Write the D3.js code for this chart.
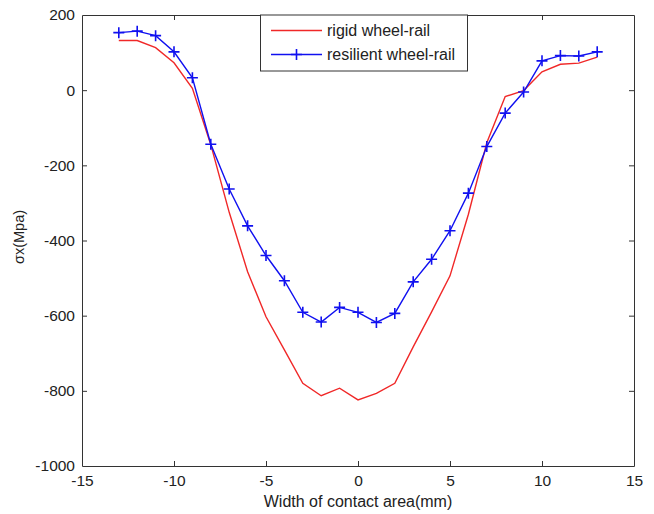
<!DOCTYPE html>
<html>
<head>
<meta charset="utf-8">
<script src="https://cdn.jsdelivr.net/npm/d3@7/dist/d3.min.js"></script>
<style>
  html, body { margin: 0; padding: 0; background: #fff; }
  svg text { font-family: "Liberation Sans", Arial, sans-serif; fill: #222; }
</style>
</head>
<body>
<svg id="chart" width="654" height="514"></svg>
<script>
// Contact width positions (mm)
const positions = [-13, -12, -11, -10, -9, -8, -7, -6, -5, -4, -3, -2, -1, 0, 1, 2, 3, 4, 5, 6, 7, 8, 9, 10, 11, 12, 13];
// Longitudinal stress σx (MPa) for the rigid wheel-rail model
const rigidStress = [132, 132, 113, 73, 5, -145, -325, -483, -603, -691, -780, -813, -793, -824, -807, -780, -683, -590, -494, -330, -140, -17, -1, 49, 69, 72, 88];
// Longitudinal stress σx (MPa) for the resilient wheel-rail model
const resilientStress = [153, 157, 145, 102, 33, -144, -263, -361, -440, -507, -591, -617, -578, -591, -618, -594, -510, -450, -374, -274, -150, -61, -5, 78, 92, 91, 102];
const seriesNames = ["rigid wheel-rail", "resilient wheel-rail"];
const xTicks = [-15, -10, -5, 0, 5, 10, 15];
const yTicks = [-1000, -800, -600, -400, -200, 0, 200];
const xTitle = "Width of contact area(mm)";
const yTitle = "σx(Mpa)";

const svg = d3.select("#chart");
const plotLeft = 82, plotRight = 634, plotTop = 15, plotBottom = 466;

const x = d3.scaleLinear().domain([-15, 15]).range([plotLeft, plotRight]);
const y = d3.scaleLinear().domain([-1000, 200]).range([plotBottom, plotTop]);

const axisColor = "#333";
const fontSize = "15.5px";
// plain hyphen-minus, as in the printed figure
const tickFmt = d => String(d);

function styleAxis(g) {
  g.selectAll("path.domain").attr("stroke", axisColor).attr("stroke-width", 1);
  g.selectAll(".tick line").attr("stroke", axisColor).attr("stroke-width", 1);
  g.selectAll(".tick text").style("font-size", fontSize).attr("fill", "#222");
}

// Box axes with inward ticks
svg.append("g").attr("transform", `translate(0,${plotBottom})`)
  .call(d3.axisBottom(x).tickValues(xTicks).tickSizeInner(-5).tickSizeOuter(0).tickPadding(9).tickFormat(tickFmt))
  .call(styleAxis);
svg.append("g").attr("transform", `translate(0,${plotTop})`)
  .call(d3.axisTop(x).tickValues(xTicks).tickSizeInner(-5).tickSizeOuter(0).tickFormat(""))
  .call(styleAxis);
svg.append("g").attr("transform", `translate(${plotLeft},0)`)
  .call(d3.axisLeft(y).tickValues(yTicks).tickSizeInner(-5).tickSizeOuter(0).tickPadding(7).tickFormat(tickFmt))
  .call(styleAxis);
svg.append("g").attr("transform", `translate(${plotRight},0)`)
  .call(d3.axisRight(y).tickValues(yTicks).tickSizeInner(-5).tickSizeOuter(0).tickFormat(""))
  .call(styleAxis);

// Hide the end ticks that fall on the box corners
svg.selectAll(".tick").filter(d => d === -15 || d === 15 || d === -1000 || d === 200)
  .select("line").attr("stroke-opacity", 0);

const line = d3.line().x(d => x(d[0])).y(d => y(d[1]));
const rigidData = positions.map((p, i) => [p, rigidStress[i]]);
const resilientData = positions.map((p, i) => [p, resilientStress[i]]);

const red = "#f02828", blue = "#1010f0";

svg.append("path").datum(rigidData).attr("d", line)
  .attr("fill", "none").attr("stroke", red).attr("stroke-width", 1.4);
svg.append("path").datum(resilientData).attr("d", line)
  .attr("fill", "none").attr("stroke", blue).attr("stroke-width", 1.4);

const plus = (sel, cx, cy, r) => {
  sel.append("path")
    .attr("d", `M${cx - r},${cy}H${cx + r}M${cx},${cy - r}V${cy + r}`)
    .attr("stroke", blue).attr("stroke-width", 1.6).attr("fill", "none");
};
const markers = svg.append("g");
resilientData.forEach(d => plus(markers, x(d[0]), y(d[1]), 5.5));

// Legend
const lg = svg.append("g");
lg.append("rect").attr("x", 260.5).attr("y", plotTop).attr("width", 207).attr("height", 56)
  .attr("fill", "#fff").attr("stroke", axisColor).attr("stroke-width", 1);
lg.append("line").attr("x1", 271).attr("x2", 322).attr("y1", 30.5).attr("y2", 30.5)
  .attr("stroke", red).attr("stroke-width", 1.4);
lg.append("line").attr("x1", 271).attr("x2", 322).attr("y1", 54.5).attr("y2", 54.5)
  .attr("stroke", blue).attr("stroke-width", 1.4);
plus(lg, 296.5, 54.5, 5.5);
lg.append("text").attr("x", 327).attr("y", 36).style("font-size", "16px").text(seriesNames[0]);
lg.append("text").attr("x", 327).attr("y", 60).style("font-size", "16px").text(seriesNames[1]);

// Axis titles
svg.append("text").attr("x", x(0)).attr("y", 507).attr("text-anchor", "middle")
  .style("font-size", "16px").text(xTitle);
svg.append("text").attr("transform", "translate(24,237) rotate(-90)")
  .attr("text-anchor", "middle").style("font-size", "14.5px").text(yTitle);
</script>
</body>
</html>
